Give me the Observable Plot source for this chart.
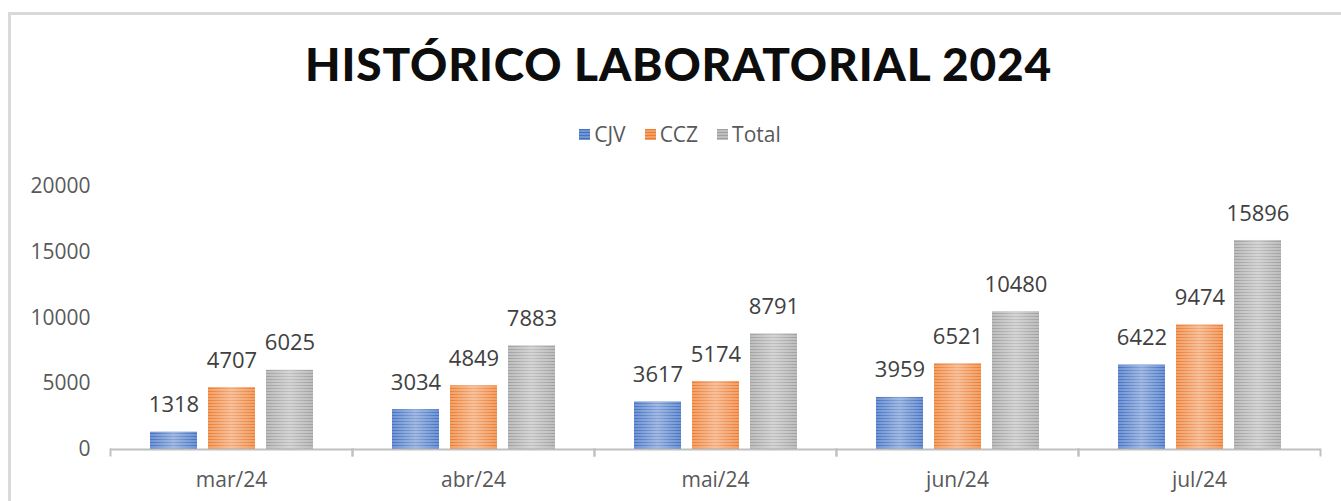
<!DOCTYPE html>
<html>
<head>
<meta charset="utf-8">
<script src="https://cdn.jsdelivr.net/npm/d3@7"></script>
<script src="https://cdn.jsdelivr.net/npm/@observablehq/plot@0.6"></script>
<style>
  html, body { margin: 0; padding: 0; background: #fff; width: 1341px; height: 501px; overflow: hidden; }
  #frame { position: absolute; left: 8px; top: 12px; width: 1400px; height: 600px;
           border-left: 3px solid #d9d9d9; border-top: 3px solid #d9d9d9; }
  #title { position: absolute; left: 0; width: 1357px; top: 36px; text-align: center;
           font-family: "Lato"; font-weight: 900; font-size: 46px; color: #0d0d0d; white-space: nowrap; }
  #legend { position: absolute; left: 0; width: 1360px; top: 120px; display: flex; justify-content: center;
            font-family: "Open Sans"; font-size: 21px; color: #595959; gap: 19px; }
  #legend .item { display: flex; align-items: center; gap: 4px; }
  #chart { position: absolute; left: -3px; top: 160px; }
</style>
</head>
<body>
<svg width="0" height="0" style="position:absolute">
  <defs>
    <pattern id="pCJV" patternUnits="userSpaceOnUse" width="6" height="3">
      <rect width="6" height="3" fill="#4472c4"/>
      <rect y="1.5" width="6" height="1" fill="#9db5e0"/>
    </pattern>
    <pattern id="pCCZ" patternUnits="userSpaceOnUse" width="6" height="3">
      <rect width="6" height="3" fill="#ed7d31"/>
      <rect y="1.5" width="6" height="1" fill="#f8c39e"/>
    </pattern>
    <pattern id="pTotal" patternUnits="userSpaceOnUse" width="6" height="3">
      <rect width="6" height="3" fill="#a0a0a0"/>
      <rect y="1.5" width="6" height="1" fill="#dcdcdc"/>
    </pattern>
    <linearGradient id="shine" x1="0" x2="1" y1="0" y2="0">
      <stop offset="0" stop-color="#fff" stop-opacity="0"/>
      <stop offset="0.5" stop-color="#fff" stop-opacity="0.35"/>
      <stop offset="1" stop-color="#fff" stop-opacity="0"/>
    </linearGradient>
  </defs>
</svg>
<div id="frame"></div>
<div id="title">HISTÓRICO LABORATORIAL 2024</div>
<div id="legend"></div>
<div id="chart"></div>
<script>
const months = ["mar/24", "abr/24", "mai/24", "jun/24", "jul/24"];
const seriesNames = ["CJV", "CCZ", "Total"];
const cjv = [1318, 3034, 3617, 3959, 6422];
const ccz = [4707, 4849, 5174, 6521, 9474];
const total = [6025, 7883, 8791, 10480, 15896];
const yTicks = [0, 5000, 10000, 15000, 20000];

const seriesValues = {CJV: cjv, CCZ: ccz, Total: total};
const fills = {CJV: "url(#pCJV)", CCZ: "url(#pCCZ)", Total: "url(#pTotal)"};

const data = [];
months.forEach((m, i) => seriesNames.forEach(s => data.push({month: m, series: s, value: seriesValues[s][i]})));

// legend
const legend = document.getElementById("legend");
seriesNames.forEach(s => {
  const item = document.createElement("div");
  item.className = "item";
  item.innerHTML = `<svg width="11" height="11"><rect width="11" height="11" fill="${fills[s]}"/></svg><span>${s}</span>`;
  legend.appendChild(item);
});

// title fit
const title = document.getElementById("title");
const span = document.createElement("span");
span.textContent = title.textContent;
title.textContent = "";
title.appendChild(span);
const targetW = 747;
const w0 = span.getBoundingClientRect().width;
const n = span.textContent.length;
span.style.letterSpacing = ((targetW - w0) / n) + "px";

const H = 341, mt = 26, mb = 52;
const chart = Plot.plot({
  width: 1341,
  height: H,
  marginLeft: 111,
  marginRight: 17,
  marginTop: mt,
  marginBottom: mb,
  style: {fontFamily: "'Open Sans'", fontSize: "21px", color: "#595959", background: "transparent"},
  fx: {domain: months, padding: 0, label: null},
  x: {domain: seriesNames, paddingInner: 0.19, paddingOuter: 0.668, axis: null},
  y: {domain: [0, 20000], label: null},
  marks: [
    Plot.axisY({ticks: yTicks, tickSize: 0, tickPadding: 20, tickFormat: d => String(d), label: null, fontSize: 21}),
    Plot.axisFx({anchor: "bottom", tickSize: 0, tickPadding: 23, label: null, fontSize: 21}),
    Plot.barY(data, {fx: "month", x: "series", y: "value", fill: d => fills[d.series]}),
    Plot.barY(data, {fx: "month", x: "series", y: "value", fill: "url(#shine)"}),
    Plot.ruleY([0], {stroke: "#c0c0c0", strokeWidth: 2}),
    Plot.frame({anchor: "left", stroke: "#c0c0c0", strokeWidth: 2, insetTop: H - mt - mb, insetBottom: -6}),
    Plot.frame({anchor: "right", stroke: "#c0c0c0", strokeWidth: 2, insetTop: H - mt - mb, insetBottom: -6}),
    Plot.text(data, {fx: "month", x: "series", y: "value", text: d => String(d.value), dy: -27, fontSize: 22, fill: "#404040"})
  ]
});
document.getElementById("chart").appendChild(chart);
</script>
</body>
</html>
